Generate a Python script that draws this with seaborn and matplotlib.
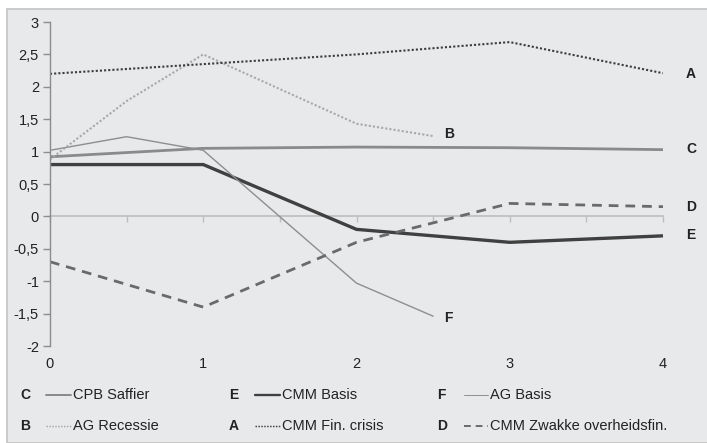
import numpy as np
import pandas as pd
import seaborn as sns
import matplotlib.pyplot as plt
from matplotlib.lines import Line2D
from matplotlib.patches import Rectangle

# series values
x_cpb = [0, 1, 2, 3, 4]
y_cpb = [0.92, 1.05, 1.07, 1.06, 1.03]

x_agb = [0, 0.5, 1, 2, 2.5]
y_agb = [1.02, 1.23, 1.02, -1.03, -1.54]

x_agr = [0, 0.5, 1, 2, 2.5]
y_agr = [0.88, 1.78, 2.5, 1.43, 1.24]

x_fin = [0, 1, 2, 3, 4]
y_fin = [2.2, 2.35, 2.5, 2.69, 2.21]

x_cmm = [0, 1, 2, 3, 4]
y_cmm = [0.8, 0.8, -0.2, -0.4, -0.3]

x_zwak = [0, 1, 2, 3, 4]
y_zwak = [-0.7, -1.4, -0.4, 0.2, 0.15]

names = ["CPB Saffier", "CMM Basis", "AG Basis", "AG Recessie", "CMM Fin. crisis", "CMM Zwakke overheidsfin."]
letters = ["C", "E", "F", "B", "A", "D"]
xs = [x_cpb, x_cmm, x_agb, x_agr, x_fin, x_zwak]
ys = [y_cpb, y_cmm, y_agb, y_agr, y_fin, y_zwak]

yticks = [-2, -1.5, -1, -0.5, 0, 0.5, 1, 1.5, 2, 2.5, 3]
ytick_labels = ["-2", "-1,5", "-1", "-0,5", "0", "0,5", "1", "1,5", "2", "2,5", "3"]
xticks = [0, 1, 2, 3, 4]

styles = {
    "CPB Saffier": dict(color="#8a8a8a", lw=2.0, ls="-"),
    "CMM Basis": dict(color="#404040", lw=2.4, ls="-"),
    "AG Basis": dict(color="#8e8e8e", lw=1.0, ls="-"),
    "AG Recessie": dict(color="#a8a8a8", lw=1.5, ls=(0, (1, 1))),
    "CMM Fin. crisis": dict(color="#3c3c3c", lw=1.5, ls=(0, (1, 1))),
    "CMM Zwakke overheidsfin.": dict(color="#6a6a6a", lw=2.0, ls=(0, (3.5, 2.5))),
}

df = pd.concat([pd.DataFrame({"x": x, "y": y, "serie": n}) for x, y, n in zip(xs, ys, names)])

sns.set_theme(style="white")
plt.rcParams['font.family'] = ['Liberation Sans', 'DejaVu Sans']

bg = "#e8e9eb"
fig = plt.figure(figsize=(7.07, 4.43), dpi=100)
fig.patch.set_facecolor("white")
W, H = 707, 443
fig.patches.append(Rectangle((7 / W, 0), 1, 1 - 9 / H, transform=fig.transFigure,
                             facecolor=bg, edgecolor="#c4c4c4", lw=1.2, zorder=-1))

ax = fig.add_axes([50 / W, (H - 346) / H, (663 - 50) / W, (346 - 22) / H])
ax.patch.set_alpha(0)

for n in names:
    st = styles[n]
    sns.lineplot(data=df[df["serie"] == n], x="x", y="y", ax=ax, color=st["color"],
                 linewidth=st["lw"], linestyle=st["ls"], sort=False, legend=False)

ax.set_xlim(0, 4)
ax.set_ylim(-2, 3)
ax.set_xlabel("")
ax.set_ylabel("")

for s in ["top", "right"]:
    ax.spines[s].set_visible(False)
ax.spines["left"].set_color("#8c8c8c")
ax.spines["left"].set_linewidth(1.0)
ax.spines["bottom"].set_position(("data", 0))
ax.spines["bottom"].set_color("#bdbdbd")
ax.spines["bottom"].set_linewidth(1.2)
ax.spines["bottom"].set_zorder(0.5)

ax.set_yticks(yticks)
ax.set_yticklabels(ytick_labels)
ax.tick_params(axis="y", direction="out", length=5, width=1, color="#8c8c8c",
               labelsize=10.5, labelcolor="#222222", pad=3, left=True)
ax.set_xticks(xticks)
ax.set_xticklabels([str(t) for t in xticks])
ax.set_xticks(np.arange(0, 4.01, 0.5), minor=True)
ax.tick_params(axis="x", which="both", direction="out", length=4, width=1, color="#bdbdbd",
               bottom=True)
ax.tick_params(axis="x", which="major", labelsize=10.5, labelcolor="#222222", pad=97)

# letters at the end of the lines
end_labels = {"A": (4.15, 2.2), "B": (2.57, 1.27), "C": (4.15, 1.04),
              "D": (4.15, 0.15), "E": (4.15, -0.28), "F": (2.57, -1.57)}
for k, (lx, ly) in end_labels.items():
    ax.text(lx, ly, k, fontsize=10, fontweight="bold", color="#222222",
            ha="left", va="center", clip_on=False)

# legend drawn by hand: letter, line sample, label
col_x = [(20, 46, 73), (229, 255, 282), (437, 464, 490)]
row_y = [395, 426]
for i, n in enumerate(names):
    r, c = divmod(i, 3)
    lx, l0, tx = col_x[c]
    yy = 1 - row_y[r] / H
    st = styles[n]
    fig.text(lx / W, yy, letters[i], fontsize=10, fontweight="bold", color="#222222",
             ha="left", va="center")
    fig.add_artist(Line2D([l0 / W, (tx - 2) / W], [yy, yy], transform=fig.transFigure,
                          color=st["color"], lw=st["lw"] * 0.7, linestyle=st["ls"]))
    fig.text(tx / W, yy, n, fontsize=10.5, color="#222222", ha="left", va="center")

fig.savefig("out.png", dpi=100, facecolor=fig.get_facecolor())
